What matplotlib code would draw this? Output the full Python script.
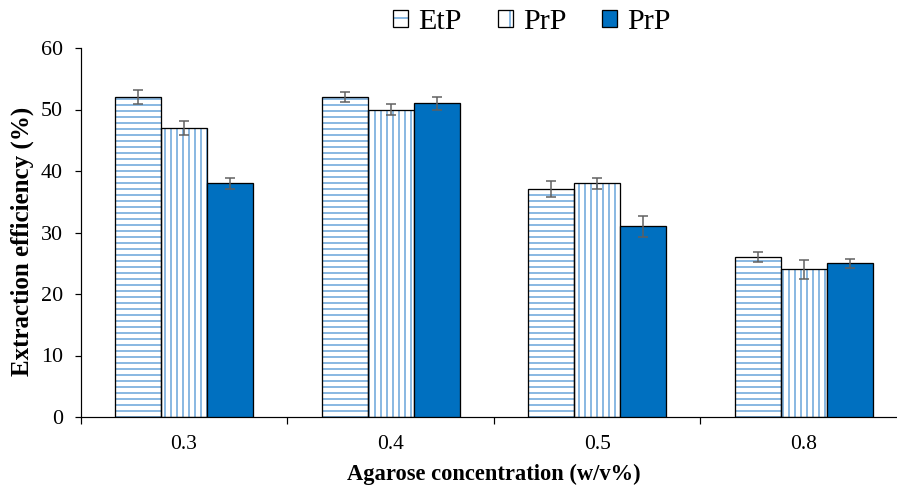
import numpy as np
import matplotlib
matplotlib.use("Agg")
import matplotlib.pyplot as plt
from matplotlib.patches import Patch
from matplotlib.legend_handler import HandlerTuple

# data
categories = ["0.3", "0.4", "0.5", "0.8"]
series_names = ["EtP", "PrP", "PrP"]
etp = [52, 52, 37, 26]
prp1 = [47, 50, 38, 24]
prp2 = [38, 51, 31, 25]
etp_err = [1.1, 0.8, 1.3, 0.8]
prp1_err = [1.2, 0.9, 0.9, 1.6]
prp2_err = [0.9, 1.1, 1.7, 0.7]

plt.rcParams['font.family'] = ['Liberation Serif', 'DejaVu Serif']
plt.rcParams['hatch.linewidth'] = 1.6

hatch_blue = '#6fa8dc'
solid_blue = '#0070c0'
err_grey = '#5f5f5f'

fig = plt.figure(figsize=(897 / 72, 488 / 72), dpi=72)
ax = fig.add_axes([80.7 / 897, 1 - 417 / 488, (907 - 80.7) / 897, (417 - 48) / 488])

x = np.arange(len(categories))
w = 0.2226
styles = [('--', 'white'), ('||', 'white'), (None, solid_blue)]
values = [etp, prp1, prp2]
errors = [etp_err, prp1_err, prp2_err]

for i, (vals, errs, (hatch, fc)) in enumerate(zip(values, errors, styles)):
    pos = x + (i - 1) * w
    if hatch:
        ax.bar(pos, vals, w, color='white', edgecolor=hatch_blue, hatch=hatch, linewidth=0, zorder=2)
        ax.bar(pos, vals, w, fill=False, edgecolor='black', linewidth=1.3, zorder=3)
    else:
        ax.bar(pos, vals, w, color=fc, edgecolor='black', linewidth=1.3, zorder=3)
    ax.errorbar(pos, vals, yerr=errs, fmt='none', ecolor=err_grey, elinewidth=1.5,
                capsize=5, capthick=1.5, zorder=4)

ax.set_xlim(-0.5, len(categories) - 0.5)
ax.set_ylim(0, 60)
ax.set_yticks(range(0, 61, 10))
ax.set_xticks(x)
ax.set_xticklabels(categories)
ax.set_xticks(np.arange(-0.5, len(categories), 1), minor=True)
ax.tick_params(axis='x', which='major', length=0, pad=18, labelsize=21.5)
ax.tick_params(axis='x', which='minor', length=7, width=1.2, direction='out')
ax.tick_params(axis='y', length=6, width=1.2, labelsize=22, pad=12)
for s in ['top', 'right']:
    ax.spines[s].set_visible(False)
ax.spines['left'].set_linewidth(1.2)
ax.spines['bottom'].set_linewidth(1.2)

ax.set_ylabel("Extraction efficiency (%)", fontsize=25, fontweight='bold')
ax.yaxis.set_label_coords(-0.057, 0.477)
ax.set_xlabel("Agarose concentration (w/v%)", fontsize=22.5, fontweight='bold', labelpad=10)

handles = []
for hatch, fc in styles:
    if hatch:
        h = (Patch(facecolor='white', edgecolor=hatch_blue, hatch=hatch[0], linewidth=0),
             Patch(fill=False, edgecolor='black', linewidth=1.3))
    else:
        h = Patch(facecolor=fc, edgecolor='black', linewidth=1.3)
    handles.append(h)

fig.legend(handles, series_names, loc='center', bbox_to_anchor=(532 / 897, 1 - 22 / 488),
           ncol=3, frameon=False, fontsize=30, handlelength=0.5, handleheight=0.5,
           handletextpad=0.33, columnspacing=1.2,
           handler_map={tuple: HandlerTuple(ndivide=1, pad=0)})

fig.savefig("out.png", dpi=72)
